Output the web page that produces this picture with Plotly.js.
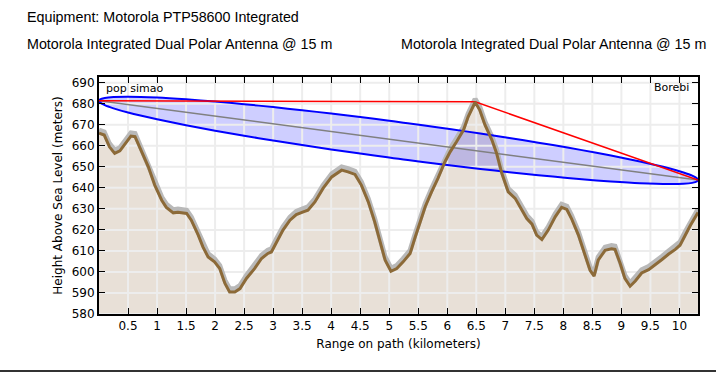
<!DOCTYPE html>
<html>
<head>
<meta charset="utf-8">
<script src="https://cdn.plot.ly/plotly-3.0.1.min.js"></script>
<style>html,body{margin:0;padding:0;background:#fff;}#chart{width:716px;height:373px;}</style>
</head>
<body>
<div id="chart"></div>
<script>
// ---- data ----
const terrainKm = [0.00,0.09,0.18,0.27,0.36,0.47,0.55,0.62,0.73,0.85,0.96,1.08,1.16,1.28,1.36,1.51,1.59,1.71,1.79,1.88,1.99,2.08,2.17,2.25,2.34,2.43,2.54,2.68,2.80,2.91,2.97,3.06,3.17,3.29,3.40,3.52,3.60,3.72,3.86,4.01,4.18,4.29,4.41,4.52,4.64,4.75,4.84,4.93,5.03,5.13,5.24,5.36,5.44,5.53,5.62,5.73,5.84,5.96,6.05,6.16,6.28,6.36,6.48,6.56,6.65,6.77,6.85,6.94,7.05,7.17,7.25,7.37,7.46,7.54,7.63,7.74,7.86,7.97,8.06,8.14,8.26,8.37,8.46,8.53,8.60,8.72,8.83,8.89,8.98,9.06,9.15,9.24,9.35,9.47,9.58,9.70,9.81,9.93,10.01,10.10,10.19,10.32];
const terrainM = [666.0,665.1,659.5,656.4,657.6,661.9,664.6,664.3,657.1,650.0,641.3,634.1,630.7,628.1,628.4,627.8,624.6,617.5,611.9,607.1,604.8,601.6,594.5,590.5,590.5,592.1,596.9,601.6,606.4,608.8,609.5,614.3,619.9,624.6,627.3,628.6,629.4,633.3,639.7,645.2,648.4,647.6,646.4,641.3,633.3,623.8,614.3,605.6,600.3,601.6,604.8,608.8,615.9,623.8,631.0,638.1,644.5,652.4,657.1,661.9,667.5,673.8,680.7,677.0,669.9,662.7,656.5,646.9,638.1,635.0,631.0,625.4,622.7,617.5,615.4,619.9,626.2,630.7,629.7,625.4,617.5,608.8,600.8,598.0,605.6,610.3,611.0,610.7,604.0,596.9,593.2,595.7,599.5,601.1,603.2,605.9,608.4,610.7,612.7,617.5,622.2,628.3];
const clutterM = 1.5;

const losKm = [0, 10.32];
const losM = [681.4, 643.7];

const obstructKm = [0, 6.48, 10.32];
const obstructM = [681.4, 680.9, 643.7];

const fresnelKm = [0,0.02,0.1,0.25,0.5,1,1.5,2,2.5,3,3.5,4,4.5,5,5.16,5.32,5.82,6.32,6.82,7.32,7.82,8.32,8.82,9.32,9.82,10.07,10.22,10.30,10.32];
const fresnelUpper = [681.4,682.10,682.75,683.18,683.33,682.93,682.09,681.01,679.77,678.39,676.90,675.32,673.64,671.89,671.30,670.72,668.82,666.84,664.78,662.61,660.33,657.93,655.35,652.53,649.29,647.30,645.79,644.54,643.70];
const fresnelLower = [681.4,680.56,679.31,677.80,675.81,672.57,669.75,667.17,664.77,662.49,660.32,658.26,656.28,654.39,653.80,653.22,651.46,649.78,648.20,646.71,645.33,644.09,643.01,642.17,641.77,641.92,642.35,643.00,643.70];

const xTicks = [0.5,1,1.5,2,2.5,3,3.5,4,4.5,5,5.5,6,6.5,7,7.5,8,8.5,9,9.5,10];
const yTicks = [580,590,600,610,620,630,640,650,660,670,680,690];
const xRange = [0, 10.32];
const yRange = [580, 692.7];

const siteA = "pop simao";
const siteB = "Borebi";
const equipmentText = "Equipment: Motorola PTP58600 Integrated";
const antennaA = "Motorola Integrated Dual Polar Antenna @ 15 m";
const antennaB = "Motorola Integrated Dual Polar Antenna @ 15 m";

// ---- build traces ----
const shadowM = terrainM.map(v => v + clutterM);
const ellX = fresnelKm.concat(fresnelKm.slice().reverse());
const ellY = fresnelUpper.concat(fresnelLower.slice().reverse());

const gx = [], gy = [];
xTicks.forEach(t => { gx.push(t, t, null); gy.push(yRange[0], yRange[1], null); });
yTicks.forEach(t => { gx.push(xRange[0], xRange[1], null); gy.push(t, t, null); });

const traces = [
  {x: terrainKm, y: terrainM, type: 'scatter', mode: 'lines', fill: 'tozeroy',
   fillcolor: '#e8e0d7', line: {width: 0, color: '#e8e0d7'}, hoverinfo: 'skip'},
  {x: ellX, y: ellY, type: 'scatter', mode: 'lines', fill: 'toself',
   fillcolor: 'rgba(60,60,255,0.25)', line: {width: 0, shape: 'spline', smoothing: 0.6}, hoverinfo: 'skip'},
  {x: gx, y: gy, type: 'scatter', mode: 'lines', line: {color: '#ededed', width: 2}, hoverinfo: 'skip'},
  {x: terrainKm, y: shadowM, type: 'scatter', mode: 'lines', line: {color: '#b9b9b9', width: 5}, hoverinfo: 'skip'},
  {x: losKm, y: losM, type: 'scatter', mode: 'lines', line: {color: '#808080', width: 1.5}, hoverinfo: 'skip'},
  {x: ellX, y: ellY, type: 'scatter', mode: 'lines', line: {color: '#0000ff', width: 2, shape: 'spline', smoothing: 0.6}, hoverinfo: 'skip'},
  {x: obstructKm, y: obstructM, type: 'scatter', mode: 'lines', line: {color: '#ff0000', width: 1.5}, hoverinfo: 'skip'},
  {x: terrainKm, y: terrainM, type: 'scatter', mode: 'lines', line: {color: '#8c6a38', width: 3}, hoverinfo: 'skip'}
];

const axisCommon = {
  showgrid: false, zeroline: false, showline: true, linecolor: '#000', linewidth: 2,
  mirror: 'ticks', ticks: 'inside', ticklen: 6, tickwidth: 1, tickcolor: '#000',
  tickfont: {family: 'DejaVu Sans', size: 12, color: '#000'}
};

const layout = {
  width: 716, height: 373,
  margin: {l: 99, r: 18, t: 77, b: 59},
  paper_bgcolor: '#fff', plot_bgcolor: '#fff',
  showlegend: false,
  xaxis: Object.assign({}, axisCommon, {range: xRange, tickvals: xTicks, ticktext: xTicks.map(String),
    title: {text: 'Range on path (kilometers)', font: {family: 'DejaVu Sans', size: 12, color: '#000'}, standoff: 7}}),
  yaxis: Object.assign({}, axisCommon, {range: yRange, tickvals: yTicks, ticktext: yTicks.map(String),
    title: {text: 'Height Above Sea Level (meters)', font: {family: 'DejaVu Sans', size: 12, color: '#000'}, standoff: 6}}),
  annotations: [
    {text: equipmentText, xref: 'paper', yref: 'paper', x: -0.1235, y: 1.253, xanchor: 'left', yanchor: 'middle', showarrow: false,
     font: {family: 'Liberation Sans', size: 14.3, color: '#000'}},
    {text: antennaA, xref: 'paper', yref: 'paper', x: -0.1235, y: 1.139, xanchor: 'left', yanchor: 'middle', showarrow: false,
     font: {family: 'Liberation Sans', size: 14.3, color: '#000'}},
    {text: antennaB, xref: 'paper', yref: 'paper', x: 1.0167, y: 1.139, xanchor: 'right', yanchor: 'middle', showarrow: false,
     font: {family: 'Liberation Sans', size: 14.3, color: '#000'}},
    {text: siteA, xref: 'paper', yref: 'paper', x: 0.008, y: 0.951, xanchor: 'left', yanchor: 'middle', showarrow: false,
     font: {family: 'DejaVu Sans', size: 11, color: '#000'}},
    {text: siteB, xref: 'paper', yref: 'paper', x: 0.989, y: 0.957, xanchor: 'right', yanchor: 'middle', showarrow: false,
     font: {family: 'DejaVu Sans', size: 11, color: '#000'}}
  ],
  shapes: [
    {type: 'line', xref: 'paper', yref: 'paper', x0: -99/599, x1: 617/599, y0: -0.2405, y1: -0.2405,
     line: {color: '#333', width: 2}}
  ]
};

Plotly.newPlot('chart', traces, layout, {staticPlot: true, displayModeBar: false});
</script>
</body>
</html>
